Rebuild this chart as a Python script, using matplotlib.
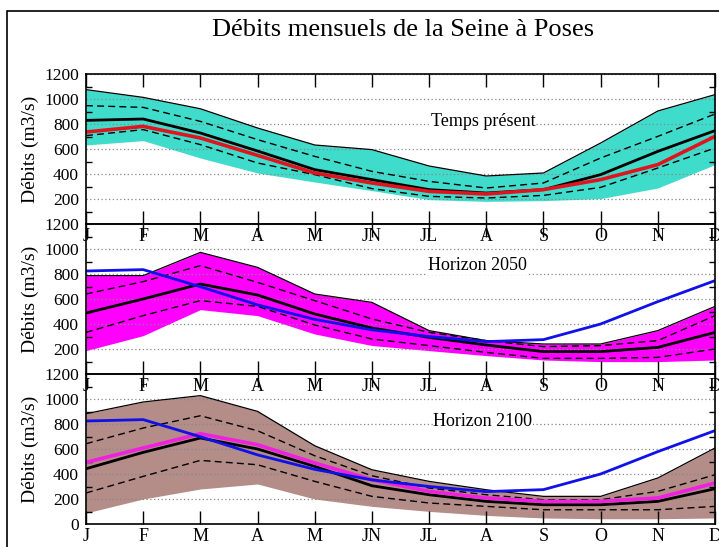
import numpy as np
import matplotlib
matplotlib.use('Agg')
import matplotlib.pyplot as plt
from matplotlib.patches import Rectangle

plt.rcParams['font.family'] = ['Liberation Serif', 'DejaVu Serif']

months = ['J', 'F', 'M', 'A', 'M', 'JN', 'JL', 'A', 'S', 'O', 'N', 'D']

# Temps present
pres_max = [1075, 1013, 922, 768, 632, 595, 464, 384, 408, 648, 904, 1035]
pres_min = [632, 667, 528, 408, 336, 267, 195, 181, 187, 203, 288, 475]
pres_q75 = [947, 933, 821, 675, 541, 421, 341, 288, 328, 528, 701, 880]
pres_q25 = [707, 755, 635, 488, 395, 283, 221, 208, 229, 293, 448, 608]
pres_med = [829, 840, 728, 584, 435, 355, 275, 248, 275, 395, 581, 747]
pres_obs = [736, 781, 688, 549, 408, 328, 261, 240, 275, 355, 475, 701]

# Horizon 2050
h50_max = [787, 787, 973, 853, 640, 573, 347, 267, 240, 240, 347, 541]
h50_min = [187, 307, 515, 467, 320, 228, 187, 147, 112, 99, 99, 112]
h50_q75 = [640, 739, 867, 733, 587, 440, 333, 267, 219, 227, 267, 467]
h50_q25 = [333, 467, 587, 541, 392, 280, 227, 173, 125, 125, 133, 200]
h50_med = [488, 600, 720, 632, 480, 368, 293, 232, 179, 179, 213, 333]

# Horizon 2100
h100_max = [882, 976, 1027, 901, 626, 434, 341, 274, 221, 221, 368, 608]
h100_min = [88, 200, 280, 320, 200, 141, 101, 69, 48, 42, 42, 48]
h100_q75 = [642, 768, 866, 746, 546, 386, 288, 234, 194, 194, 261, 394]
h100_q25 = [248, 381, 509, 474, 341, 221, 168, 141, 114, 114, 114, 141]
h100_med = [442, 573, 688, 600, 461, 306, 234, 181, 154, 154, 181, 282]
h100_h50 = [493, 608, 722, 634, 488, 354, 261, 208, 181, 181, 208, 328]

# reference (present median) in blue on lower panels
ref_blue = [824, 835, 698, 553, 437, 353, 300, 259, 275, 400, 579, 747]

panels = [
    dict(label='Temps présent', fill='#40DCCB', mx=pres_max, mn=pres_min,
         q75=pres_q75, q25=pres_q25, med=pres_med, txt=(6.94, 824),
         extra=[(pres_obs, '#E0141E', 2.6)]),
    dict(label='Horizon 2050', fill='#FF00FF', mx=h50_max, mn=h50_min,
         q75=h50_q75, q25=h50_q25, med=h50_med, txt=(6.84, 864),
         extra=[(ref_blue, '#1010E8', 2.0)]),
    dict(label='Horizon 2100', fill='#B48C88', mx=h100_max, mn=h100_min,
         q75=h100_q75, q25=h100_q25, med=h100_med, txt=(6.94, 818),
         extra=[(h100_h50, '#F020E0', 2.6), (ref_blue, '#1010E8', 2.0)]),
]

fig = plt.figure(figsize=(7.19, 5.47), dpi=100)
x = np.arange(len(months))

left, width = 86 / 719, 629 / 719
bottoms = [(547 - 224) / 547, (547 - 374) / 547, (547 - 524) / 547]
h = 150 / 547

for i, p in enumerate(panels):
    ax = fig.add_axes([left, bottoms[i], width, h])
    ax.set_facecolor('none')
    ax.fill_between(x, p['mn'], p['mx'], color=p['fill'], lw=0, zorder=1)
    ax.plot(x, p['mx'], color='black', lw=0.9, zorder=2)
    ax.plot(x, p['q75'], color='black', lw=1.0, ls=(0, (5, 3)), zorder=2)
    ax.plot(x, p['q25'], color='black', lw=1.0, ls=(0, (5, 3)), zorder=2)
    ax.plot(x, p['med'], color='black', lw=2.0, zorder=2)
    for vals, col, lw in p['extra']:
        ax.plot(x, vals, color=col, lw=lw, zorder=2)

    ax.set_xlim(0, 11)
    ax.set_ylim(0, 1200)
    ax.set_xticks(x)
    ax.set_xticklabels(months)
    if i < 2:
        ax.set_yticks(np.arange(200, 1201, 200))
    else:
        ax.set_yticks(np.arange(0, 1201, 200))
    ax.set_yticks(np.arange(100, 1200, 200), minor=True)
    ax.tick_params(axis='x', which='major', direction='in', length=9.5,
                   width=1, top=True, labelsize=13, pad=3)
    ax.tick_params(axis='y', which='major', length=0, labelsize=12.5, pad=5)
    ax.tick_params(axis='y', which='minor', direction='in', length=4.5,
                   width=1, right=True)
    ax.set_axisbelow('line')
    ax.yaxis.grid(True, which='major', color='#888888', ls=(0, (1, 2)), lw=0.9)
    for s in ax.spines.values():
        s.set_linewidth(1.2)
    ax.set_ylabel('Débits (m3/s)', fontsize=14, labelpad=4)
    ax.text(p['txt'][0], p['txt'][1], p['label'], fontsize=13,
            ha='center', va='center', zorder=4,
            bbox=dict(facecolor='white', edgecolor='none', pad=0.5))

fig.text(403 / 719, 1 - 30 / 547, 'Débits mensuels de la Seine à Poses',
         fontsize=19, ha='center', va='center')

fig.patches.append(Rectangle((7 / 719, -0.05), 1.2, 1.05 - 11 / 547,
                             transform=fig.transFigure, fill=False,
                             edgecolor='black', lw=1.2))

fig.savefig('out.png', dpi=100)
